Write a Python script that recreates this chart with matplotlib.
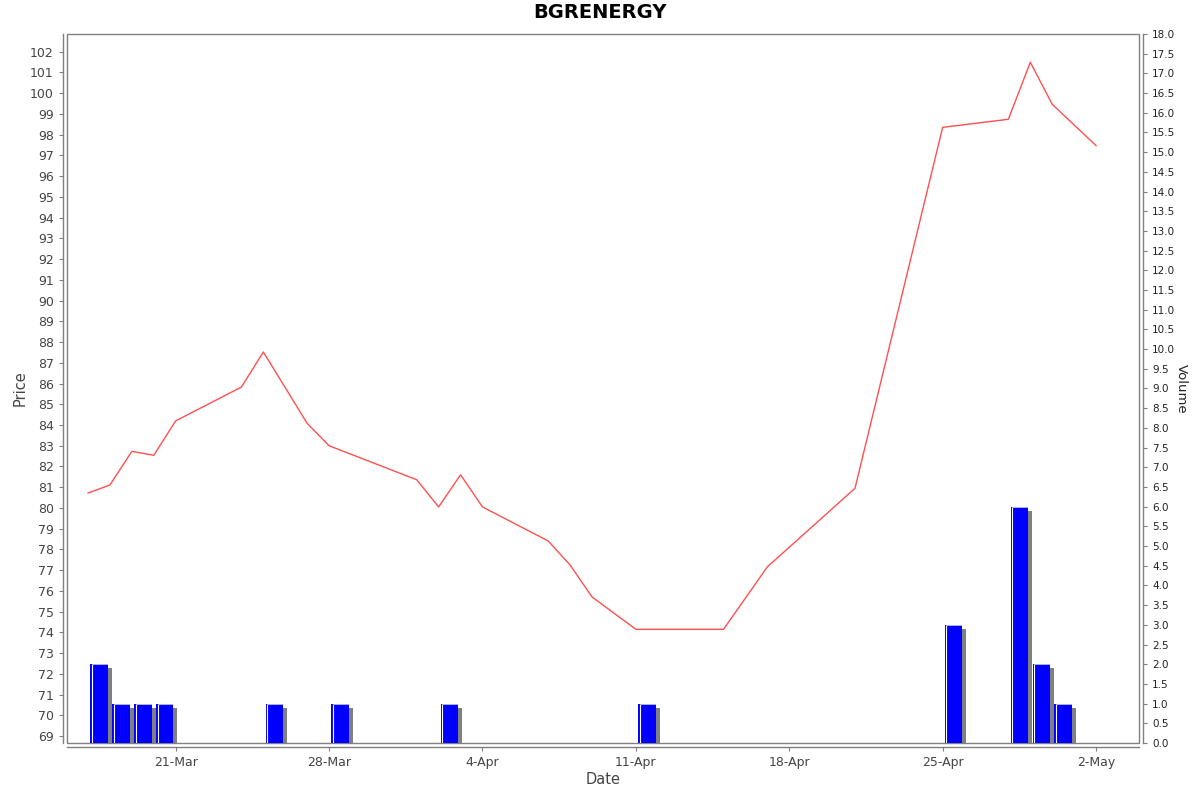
import matplotlib

matplotlib.use("Agg")
import matplotlib.dates as mdates
import matplotlib.pyplot as plt
import pandas as pd
from matplotlib.patches import Rectangle
from matplotlib.ticker import FormatStrFormatter, MultipleLocator

TITLE = "BGRENERGY"

# closing prices
price_dates = [
    "2025-03-17", "2025-03-18", "2025-03-19", "2025-03-20", "2025-03-21",
    "2025-03-24", "2025-03-25", "2025-03-27", "2025-03-28", "2025-04-01",
    "2025-04-02", "2025-04-03", "2025-04-04", "2025-04-07", "2025-04-08",
    "2025-04-09", "2025-04-11", "2025-04-15", "2025-04-17", "2025-04-21",
    "2025-04-25", "2025-04-28", "2025-04-29", "2025-04-30", "2025-05-02",
]
prices = [
    80.72, 81.11, 82.73, 82.54, 84.20,
    85.83, 87.52, 84.08, 83.00, 81.36,
    80.05, 81.60, 80.05, 78.41, 77.25,
    75.71, 74.15, 74.15, 77.16, 80.95,
    98.35, 98.74, 101.49, 99.46, 97.47,
]

# traded volume, only days with non-zero volume
volume_dates = [
    "2025-03-17", "2025-03-18", "2025-03-19", "2025-03-20", "2025-03-25",
    "2025-03-28", "2025-04-02", "2025-04-11", "2025-04-25", "2025-04-28",
    "2025-04-29", "2025-04-30",
]
volumes = [2, 1, 1, 1, 1, 1, 1, 1, 3, 6, 2, 1]

GRAY = "#808080"
LABEL_GRAY = "#444444"

px = pd.to_datetime(price_dates)
vx = mdates.date2num(pd.to_datetime(volume_dates))

fig = plt.figure(figsize=(12, 7.92), dpi=100)
ax = fig.add_axes([67 / 1200, 49 / 792, 1072 / 1200, 709 / 792])
ax2 = ax.twinx()

# price line
ax.plot(px, prices, color="#ff5050", lw=1.0, zorder=3)
ax.set_ylim(68.67, 102.85)
ax.yaxis.set_major_locator(MultipleLocator(1))
ax.set_xlim(mdates.date2num(pd.Timestamp("2025-03-16")) + 0.04,
            mdates.date2num(pd.Timestamp("2025-05-04")) - 0.04)
ax.xaxis.set_major_locator(mdates.WeekdayLocator(byweekday=mdates.FR))
ax.xaxis.set_major_formatter(mdates.DateFormatter("%-d-%b"))

# volume bars with a drop shadow
bar_w = 0.8
left = vx + 0.1
ax2.bar(left + 0.18, [v - 0.1 for v in volumes], width=bar_w, align="edge",
        color=GRAY, zorder=1)
ax2.bar(left, volumes, width=bar_w, align="edge", color="#0000ff", zorder=2)
ax2.vlines(left + 0.07, 0, volumes, color="white", lw=0.8, zorder=3)
ax2.hlines(volumes, left + 0.07, left + bar_w, color="#d0d0ff", lw=0.6, zorder=3)
ax2.set_ylim(0, 18)
ax2.yaxis.set_major_locator(MultipleLocator(0.5))
ax2.yaxis.set_major_formatter(FormatStrFormatter("%.1f"))

# JFreeChart-like frame with axes offset from the plot area
for s in ax.spines.values():
    s.set_visible(False)
for s in ax2.spines.values():
    s.set_visible(False)
ax.spines["left"].set_visible(True)
ax.spines["bottom"].set_visible(True)
ax.spines["left"].set_position(("outward", 3))
ax.spines["bottom"].set_position(("outward", 3))
ax2.spines["right"].set_visible(True)
ax2.spines["right"].set_position(("outward", 3))
for s in (ax.spines["left"], ax.spines["bottom"], ax2.spines["right"]):
    s.set_color(GRAY)
    s.set_linewidth(1.0)
ax.add_patch(Rectangle((0, 0), 1, 1, transform=ax.transAxes, fill=False,
                       edgecolor=GRAY, lw=1.0, clip_on=False, zorder=5))

ax.tick_params(axis="both", colors=GRAY, length=3, width=0.8,
               labelsize=9, labelcolor=LABEL_GRAY)
ax2.tick_params(axis="y", colors=GRAY, length=3, width=0.8,
                labelsize=7.5, labelcolor="#222222")

ax.set_ylabel("Price", fontsize=10.5, color=LABEL_GRAY, labelpad=2)
ax.set_xlabel("Date", fontsize=10.5, color=LABEL_GRAY, labelpad=2)
ax2.set_ylabel("Volume", fontsize=9.5, color="#222222", rotation=270,
               labelpad=9)
fig.text(0.5, 1 - 13 / 792, TITLE, ha="center", va="center",
         fontsize=14, fontweight="bold")

fig.savefig("out.png", dpi=100, facecolor="white")
